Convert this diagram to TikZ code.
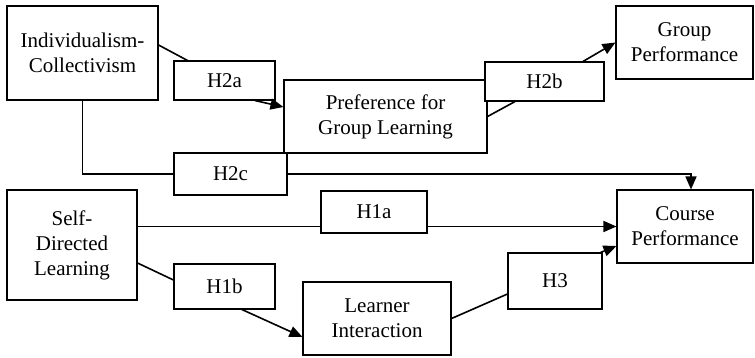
\documentclass[tikz,border=0pt]{standalone}
\usepackage{fontspec}
\setmainfont{Liberation Serif}
\usetikzlibrary{arrows.meta,calc}
\begin{document}
\begin{tikzpicture}[x=1pt,y=-1pt,
  box/.style={draw=black,fill=white,line width=1.1pt,align=center,
    inner sep=0pt,font=\fontsize{21}{25}\selectfont},
  link/.style={line width=1.6pt},
  arr/.style={link,-{Triangle[length=13pt,width=11pt]}}]
\useasboundingbox (0,0) rectangle (755,357);

% boxes: centre, width, height
\node[box,minimum width=151pt,minimum height=94pt] (IC)  at (82.5,53)   {Individualism-\\Collectivism};
\node[box,minimum width=203pt,minimum height=73pt] (PGL) at (385.5,116.5) {Preference for\\Group Learning};
\node[box,minimum width=137pt,minimum height=73pt] (GP)  at (684.5,42.5) {Group\\Performance};
\node[box,minimum width=136pt,minimum height=73pt] (CP)  at (685,226.5)  {Course\\Performance};
\node[box,minimum width=130pt,minimum height=110pt] (SDL) at (72,245)    {Self-\\Directed\\Learning};
\node[box,minimum width=148pt,minimum height=73pt] (LI)  at (377,318.5)  {Learner\\Interaction};

% hypothesis labels
\node[box,minimum width=101pt,minimum height=39pt] (H2a) at (224.5,80.5) {H2a};
\node[box,minimum width=119pt,minimum height=39pt] (H2b) at (544.5,81.5) {H2b};
\node[box,minimum width=113pt,minimum height=42pt] (H2c) at (230.5,174)  {H2c};
\node[box,minimum width=106pt,minimum height=42pt] (H1a) at (374,212)    {H1a};
\node[box,minimum width=101pt,minimum height=45pt] (H1b) at (224.5,286.5) {H1b};
\node[box,minimum width=94pt,minimum height=56pt]  (H3)  at (555,281)    {H3};

% H2a path
\draw[link] ($(IC.east)+(0,-8)$) -- ($(H2a.north west)+(14,0)$);
\draw[arr]  ($(H2a.south)+(30.5,0)$) -- ($(PGL.west)+(0,-9.5)$);
% H2b path
\draw[link] (PGL.east) -- ($(H2b.south)+(-29.5,0)$);
\draw[arr]  ($(H2b.north)+(38.5,0)$) -- (GP.west);
% H2c path
\draw[link] (IC.south) |- (H2c.west);
\draw[arr]  (H2c.east) -| ($(CP.north)+(6,0)$);
% H1a path
\draw[link] (SDL.east |- CP.west) -- (H1a.west |- CP.west);
\draw[arr]  (H1a.east |- CP.west) -- (CP.west);
% H1b path
\draw[link] ($(SDL.east)+(0,18)$) -- ($(H1b.west)+(0,-6.5)$);
\draw[arr]  ($(H1b.south)+(17.5,0)$) -- ($(LI.west)+(0,18.5)$);
% H3 path
\draw[link] (LI.east) -- ($(H3.west)+(0,13)$);
\draw[arr]  ($(H3.north east)+(-2,0)$) -- ($(CP.west)+(0,19.5)$);
\end{tikzpicture}
\end{document}
